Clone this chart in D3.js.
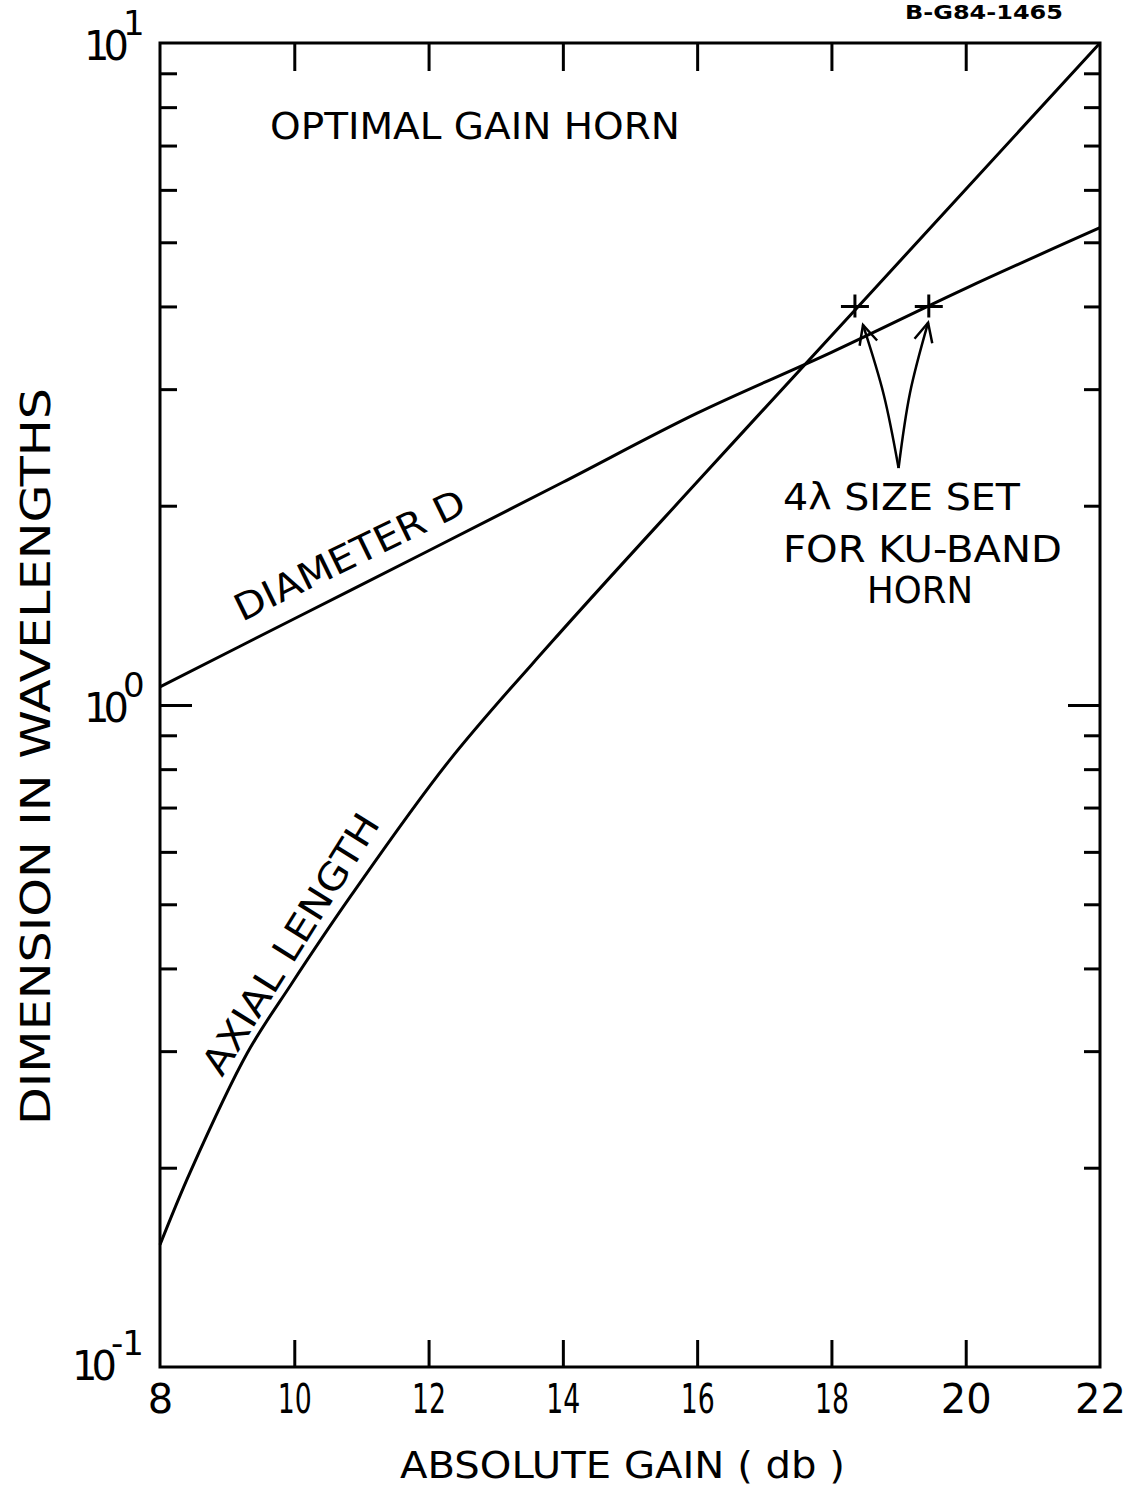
<!DOCTYPE html>
<html>
<head>
<meta charset="utf-8">
<script src="https://cdnjs.cloudflare.com/ajax/libs/d3/7.8.5/d3.min.js"></script>
<style>
  body { margin: 0; background: #fff; }
  text { font-family: "DejaVu Sans", sans-serif; fill: #000; }
  .axis path { display: none; }
  .axis line { stroke: #000; stroke-width: 3; }
</style>
</head>
<body>
<svg id="chart" width="1129" height="1494"></svg>
<script>
// values
var gainTicks = [8, 10, 12, 14, 16, 18, 20, 22];
var majorTicks = [0.1, 1, 10];
var minorTicks = [0.2, 0.3, 0.4, 0.5, 0.6, 0.7, 0.8, 0.9, 2, 3, 4, 5, 6, 7, 8, 9];

var diamGain  = [8, 10, 12, 14, 16, 18, 20, 22];
var diamValue = [1.065, 1.35, 1.71, 2.17, 2.76, 3.41, 4.26, 5.26];

var axialGain  = [8, 8.45, 9.3, 9.95, 10.85, 12.3, 13.85, 16.05, 18.4, 22];
var axialValue = [0.153, 0.197, 0.298, 0.378, 0.516, 0.822, 1.25, 2.2, 4.0, 10];

// "+" marks where the 4 lambda size sits
var markGain  = [18.35, 19.45];
var markValue = [4, 4];

// annotation arrows (from the label up to the marks)
var arrow1Gain  = [19.0, 18.78, 18.47];
var arrow1Value = [2.28, 2.94, 3.75];
var arrow2Gain  = [19.0, 19.17, 19.44];
var arrow2Value = [2.28, 2.96, 3.78];

var margin = { left: 160, top: 43, right: 1100, bottom: 1367 };

var svg = d3.select('#chart');

var x = d3.scaleLinear().domain([8, 22]).range([margin.left, margin.right]);
var y = d3.scaleLog().domain([0.1, 10]).range([margin.bottom, margin.top]);

// ticks on all four sides, pointing inward
svg.append('g').attr('class', 'axis')
  .attr('transform', 'translate(0,' + margin.top + ')')
  .call(d3.axisTop(x).tickValues(gainTicks.slice(1, -1)).tickSizeInner(-28).tickFormat(''));

var bottomAxis = svg.append('g').attr('class', 'axis')
  .attr('transform', 'translate(0,' + margin.bottom + ')')
  .call(d3.axisBottom(x).tickValues(gainTicks).tickSizeInner(-27).tickPadding(16).tickFormat(d3.format('d')));
bottomAxis.selectAll('text')
  .style('font-size', '40px')
  .attr('dy', '0.74em')
  .each(function(d) {
    // the lettering draws "1" as a plain stroke, so those labels are narrow
    if (String(d).charAt(0) === '1') d3.select(this).attr('textLength', 34).attr('lengthAdjust', 'spacingAndGlyphs');
  });
bottomAxis.selectAll('.tick').filter(function(d) { return d === 8 || d === 22; }).select('line').remove();

svg.append('g').attr('class', 'axis')
  .attr('transform', 'translate(' + margin.left + ',0)')
  .call(d3.axisLeft(y).tickValues(minorTicks).tickSizeInner(-17).tickFormat(''));
svg.append('g').attr('class', 'axis')
  .attr('transform', 'translate(' + margin.left + ',0)')
  .call(d3.axisLeft(y).tickValues([1]).tickSizeInner(-32).tickFormat(''));
svg.append('g').attr('class', 'axis')
  .attr('transform', 'translate(' + margin.right + ',0)')
  .call(d3.axisRight(y).tickValues(minorTicks).tickSizeInner(-16).tickFormat(''));
svg.append('g').attr('class', 'axis')
  .attr('transform', 'translate(' + margin.right + ',0)')
  .call(d3.axisRight(y).tickValues([1]).tickSizeInner(-32).tickFormat(''));

// frame
svg.append('rect')
  .attr('x', margin.left).attr('y', margin.top)
  .attr('width', margin.right - margin.left).attr('height', margin.bottom - margin.top)
  .attr('fill', 'none').attr('stroke', '#000').attr('stroke-width', 3);

// decade labels 10^n, one text each with a raised exponent
var expLabels = svg.append('g').selectAll('text')
  .data(majorTicks)
  .enter().append('text')
  .attr('x', function(d) { return d < 1 ? 72 : 84; })
  .attr('y', function(d) { return y(d) + (d < 1 ? 13 : 17); })
  .style('font-size', '40px');
expLabels.append('tspan')
  .style('letter-spacing', '-6px')
  .text('10');
expLabels.append('tspan')
  .attr('dy', -25)
  .style('font-size', '34px')
  .style('letter-spacing', function(d) { return d < 1 ? '-1px' : '-5px'; })
  .text(function(d) { return String(Math.round(Math.log10(d))); });

// curves
var line = d3.line()
  .x(function(d) { return x(d[0]); })
  .y(function(d) { return y(d[1]); })
  .curve(d3.curveCatmullRom.alpha(0.5));

svg.append('path')
  .datum(d3.zip(diamGain, diamValue))
  .attr('d', line)
  .attr('fill', 'none').attr('stroke', '#000').attr('stroke-width', 3);

svg.append('path')
  .datum(d3.zip(axialGain, axialValue))
  .attr('d', line)
  .attr('fill', 'none').attr('stroke', '#000').attr('stroke-width', 3);

// + marks
svg.append('g').selectAll('path')
  .data(d3.zip(markGain, markValue))
  .enter().append('path')
  .attr('d', function(d) {
    var cx = x(d[0]), cy = y(d[1]);
    return 'M' + (cx - 14) + ',' + cy + 'H' + (cx + 14) + 'M' + cx + ',' + (cy - 12) + 'V' + (cy + 11);
  })
  .attr('stroke', '#000').attr('stroke-width', 3).attr('fill', 'none');

// arrows
var arrowLine = d3.line()
  .x(function(d) { return x(d[0]); })
  .y(function(d) { return y(d[1]); })
  .curve(d3.curveCatmullRom);

[[arrow1Gain, arrow1Value], [arrow2Gain, arrow2Value]].forEach(function(a) {
  var pts = d3.zip(a[0], a[1]);
  svg.append('path')
    .datum(pts)
    .attr('d', arrowLine)
    .attr('fill', 'none').attr('stroke', '#000').attr('stroke-width', 2.5);
  var tip = pts[pts.length - 1], prev = pts[pts.length - 2];
  var tx = x(tip[0]), ty = y(tip[1]);
  var ang = Math.atan2(ty - y(prev[1]), tx - x(prev[0]));
  var len = 21, spread = 0.45;
  svg.append('path')
    .attr('d', 'M' + (tx - len * Math.cos(ang - spread)) + ',' + (ty - len * Math.sin(ang - spread)) +
               'L' + tx + ',' + ty +
               'L' + (tx - len * Math.cos(ang + spread)) + ',' + (ty - len * Math.sin(ang + spread)))
    .attr('fill', 'none').attr('stroke', '#000').attr('stroke-width', 2.5);
});

// texts
function label(t, px, py, size, len, rot) {
  var el = svg.append('text')
    .attr('x', px).attr('y', py)
    .style('font-size', size + 'px')
    .text(t);
  if (len) el.attr('textLength', len).attr('lengthAdjust', 'spacingAndGlyphs');
  if (rot) el.attr('transform', 'rotate(' + rot + ',' + px + ',' + py + ')');
  return el;
}

label('B-G84-1465', 905, 19, 19, 158).style('font-weight', 'bold');
label('OPTIMAL GAIN HORN', 270, 139, 38, 410);
label('DIAMETER D', 242, 622, 37, 252, -26);
label('AXIAL LENGTH', 222, 1078, 37, 300, -58);
label('4\u03bb SIZE SET', 783, 510, 37, 237);
label('FOR KU-BAND', 783, 562, 37, 279);
label('HORN', 867, 603, 37, 106);
label('ABSOLUTE GAIN ( db )', 400, 1478, 38, 445);
label('DIMENSION IN WAVELENGTHS', 50, 1125, 40, 737, -90);
</script>
</body>
</html>
